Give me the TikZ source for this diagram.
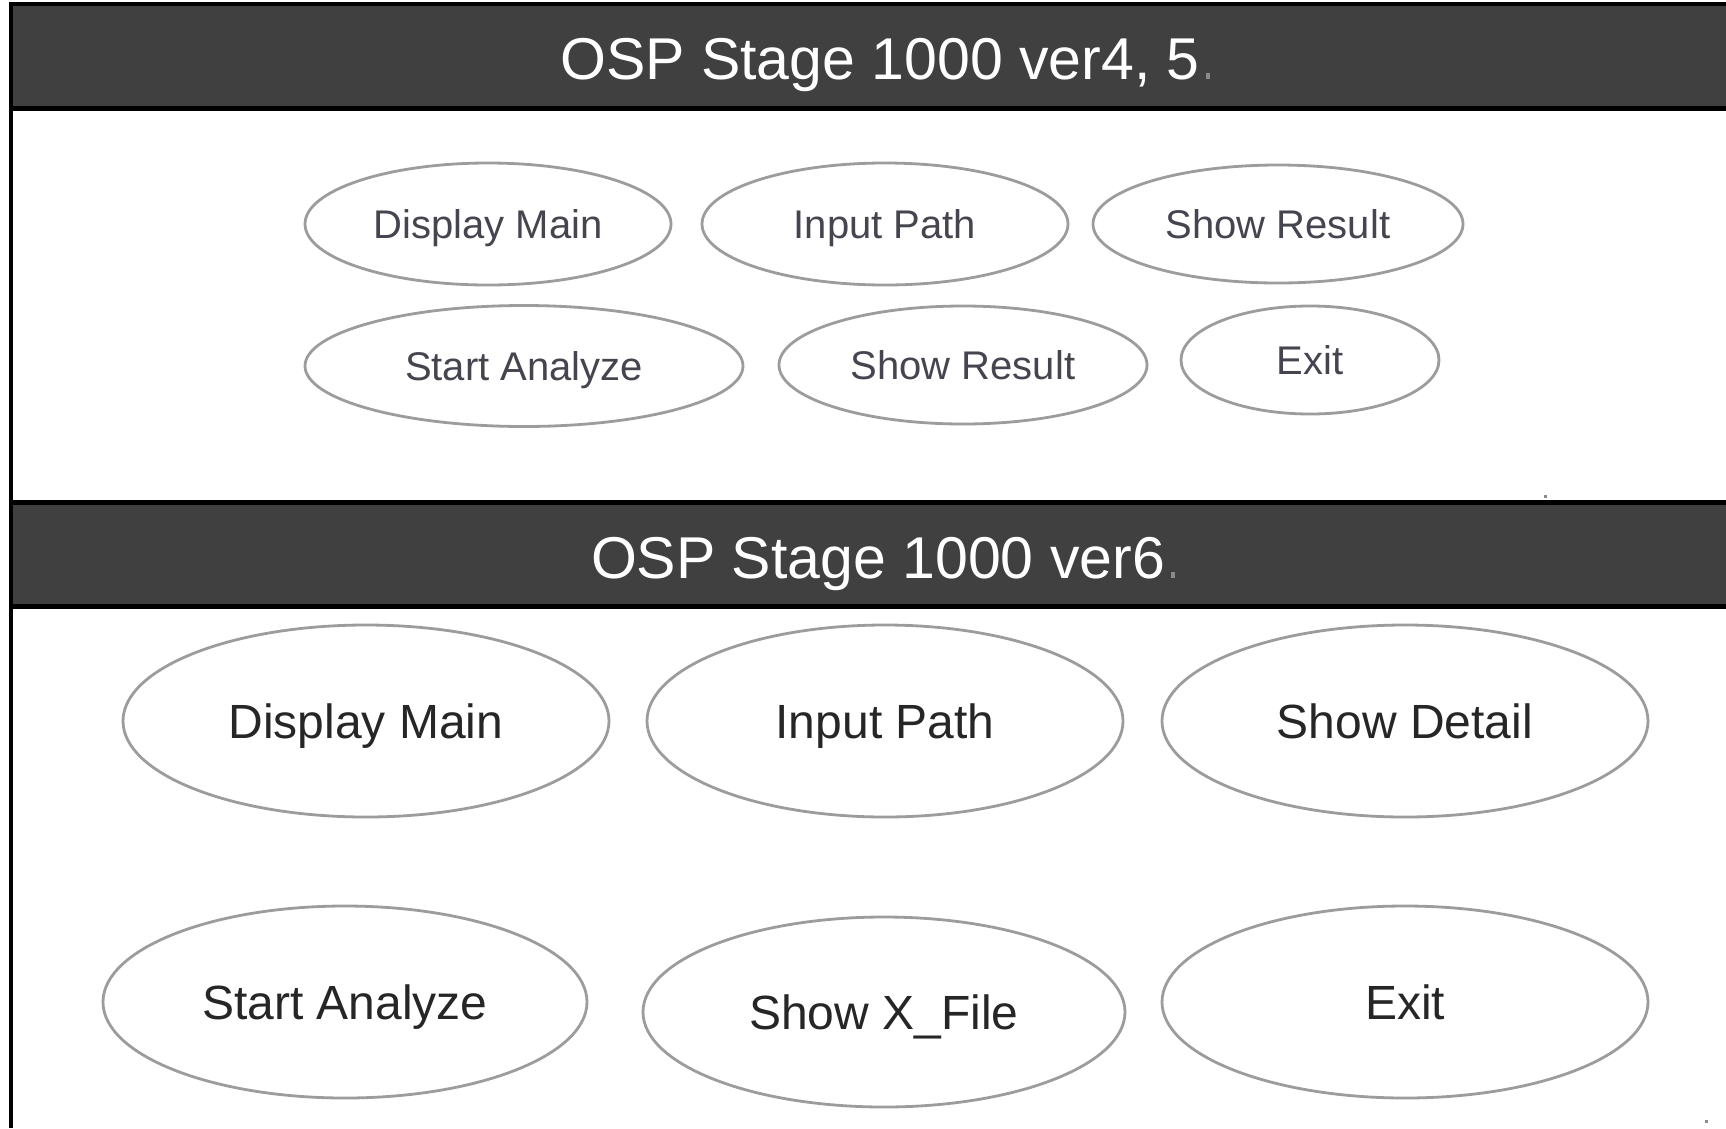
\documentclass[tikz,border=0pt]{standalone}
\usepackage{fontspec}
\setmainfont{Liberation Sans}
\usetikzlibrary{shapes.geometric}
\definecolor{barfill}{HTML}{404040}
\definecolor{ringcol}{HTML}{9C9C9C}
\definecolor{inkA}{HTML}{45454F}
\definecolor{inkB}{HTML}{262626}
\definecolor{markcol}{HTML}{8A8A8A}
\tikzset{
  oval/.style={ellipse, draw=ringcol, line width=2.8pt, inner sep=0pt, text depth=0pt},
  ovalA/.style={oval, text=inkA, font=\fontsize{40}{44}\selectfont, text height=28.8pt},
  ovalB/.style={oval, text=inkB, font=\fontsize{48}{52}\selectfont, text height=34.5pt},
  titletext/.style={text=white, anchor=base, inner sep=0pt, font=\fontsize{59}{64}\selectfont},
  pmark/.style={fill=markcol, draw=none, inner sep=0pt, minimum width=4pt, minimum height=6pt}
}
\begin{document}
\begin{tikzpicture}[x=1pt,y=-1pt]
\useasboundingbox (0,0) rectangle (1726,1128);
\fill[white] (0,0) rectangle (1726,1128);
% frame and bars
\fill[black] (9,2) rectangle (1726,111);
\fill[barfill] (13,6) rectangle (1726,106);
\fill[black] (9,500) rectangle (1726,609);
\fill[barfill] (13,505) rectangle (1726,604);
\fill[black] (9,2) rectangle (13,1128);
% titles
\node[titletext] (t1) at (880,79) {OSP Stage 1000 ver4, 5};
\node[titletext] (t2) at (878,578) {OSP Stage 1000 ver6};
\node[pmark, anchor=south west] (m1) at ([xshift=6pt]t1.base east) {};
\node[pmark, anchor=south west] (m2) at ([xshift=6pt]t2.base east) {};
\node[pmark, minimum width=3pt, minimum height=3pt] (m3) at (1545,496) {};
\node[pmark, minimum width=3pt, minimum height=3pt] (m4) at (1706,1121) {};
% version 4,5
\node[ovalA, minimum width=366pt, minimum height=122pt] (a1) at (488,224) {Display Main};
\node[ovalA, minimum width=366pt, minimum height=122pt] (a2) at (885,224) {Input Path};
\node[ovalA, minimum width=370pt, minimum height=118pt] (a3) at (1278,224) {Show Result};
\node[ovalA, minimum width=438pt, minimum height=121pt] (a4) at (524,366) {Start Analyze};
\node[ovalA, minimum width=368pt, minimum height=118pt] (a5) at (963,365) {Show Result};
\node[ovalA, minimum width=258pt, minimum height=108pt] (a6) at (1310,360) {Exit};
% version 6
\node[ovalB, minimum width=486pt, minimum height=192pt] (b1) at (366,721) {Display Main};
\node[ovalB, minimum width=476pt, minimum height=192pt] (b2) at (885,721) {Input Path};
\node[ovalB, minimum width=486pt, minimum height=192pt] (b3) at (1405,721) {Show Detail};
\node[ovalB, minimum width=484pt, minimum height=192pt] (b4) at (345,1002) {Start Analyze};
\node[ovalB, minimum width=482pt, minimum height=190pt] (b5) at (884,1012) {Show X\_File};
\node[ovalB, minimum width=486pt, minimum height=192pt] (b6) at (1405,1002) {Exit};
\end{tikzpicture}
\end{document}
